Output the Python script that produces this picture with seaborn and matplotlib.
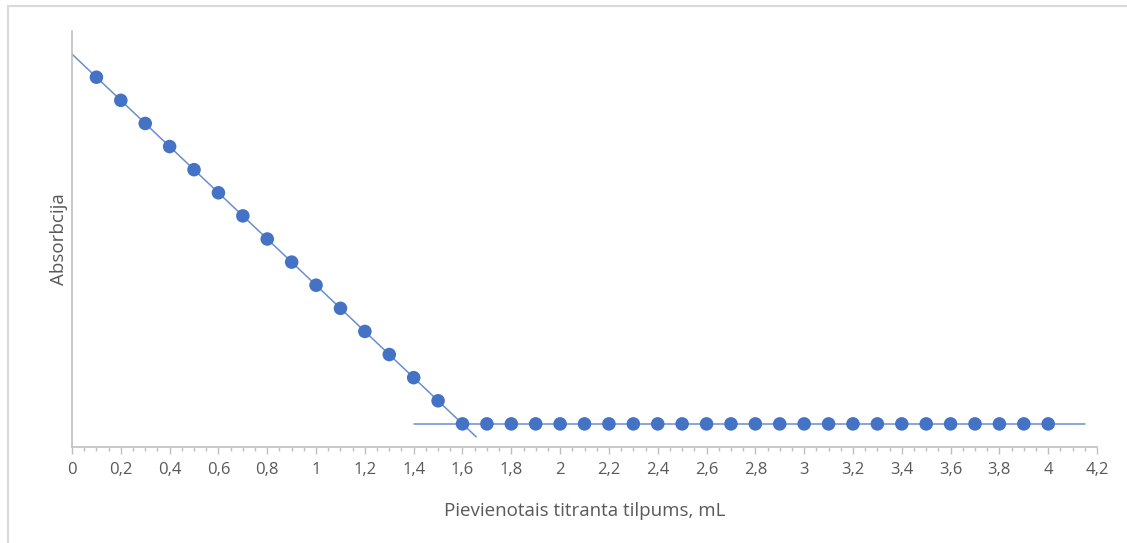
import numpy as np
import pandas as pd
import matplotlib.pyplot as plt
import seaborn as sns
from matplotlib.lines import Line2D
from matplotlib.ticker import MultipleLocator

# ── Data ──────────────────────────────────────────────────────────────────────
volume = [0.1, 0.2, 0.3, 0.4, 0.5, 0.6, 0.7, 0.8, 0.9, 1.0,
          1.1, 1.2, 1.3, 1.4, 1.5, 1.6, 1.7, 1.8, 1.9, 2.0,
          2.1, 2.2, 2.3, 2.4, 2.5, 2.6, 2.7, 2.8, 2.9, 3.0,
          3.1, 3.2, 3.3, 3.4, 3.5, 3.6, 3.7, 3.8, 3.9, 4.0]
absorb = [0.80, 0.75, 0.70, 0.65, 0.60, 0.55, 0.50, 0.45, 0.40, 0.35,
          0.30, 0.25, 0.20, 0.15, 0.10, 0.05, 0.05, 0.05, 0.05, 0.05,
          0.05, 0.05, 0.05, 0.05, 0.05, 0.05, 0.05, 0.05, 0.05, 0.05,
          0.05, 0.05, 0.05, 0.05, 0.05, 0.05, 0.05, 0.05, 0.05, 0.05]
n_falling = 15                      # points used for the descending trendline
falling_span = [0.0, 1.656]         # trendline extents (x)
flat_span = [1.4, 4.15]

tick_values = [0, 0.2, 0.4, 0.6, 0.8, 1, 1.2, 1.4, 1.6, 1.8, 2, 2.2,
               2.4, 2.6, 2.8, 3, 3.2, 3.4, 3.6, 3.8, 4, 4.2]
tick_labels = ["0", "0,2", "0,4", "0,6", "0,8", "1", "1,2", "1,4", "1,6", "1,8",
               "2", "2,2", "2,4", "2,6", "2,8", "3", "3,2", "3,4", "3,6", "3,8",
               "4", "4,2"]

df = pd.DataFrame({"v": volume, "a": absorb})

# trendlines (linear fits on each segment)
k1, b1 = np.polyfit(df["v"][:n_falling], df["a"][:n_falling], 1)
k2, b2 = np.polyfit(df["v"][n_falling:], df["a"][n_falling:], 1)
trend1 = pd.DataFrame({"v": falling_span})
trend1["a"] = k1 * trend1["v"] + b1
trend2 = pd.DataFrame({"v": flat_span})
trend2["a"] = k2 * trend2["v"] + b2

# ── Plot ──────────────────────────────────────────────────────────────────────
sns.set_theme(style="white")
plt.rcParams['font.family'] = ['Open Sans', 'DejaVu Sans']

blue = "#4472C4"
grey_txt = "#595959"
grey_axis = "#BFBFBF"

fig = plt.figure(figsize=(11.27, 5.43), dpi=100)
ax = fig.add_axes([0.0639, 0.1768, 0.9095, 0.7661])

sns.lineplot(data=trend1, x="v", y="a", ax=ax, color=blue, lw=1.1, alpha=0.8)
sns.lineplot(data=trend2, x="v", y="a", ax=ax, color=blue, lw=1.1, alpha=0.8)
sns.scatterplot(data=df, x="v", y="a", ax=ax, color=blue, s=95,
                edgecolor="none", zorder=3)

ax.set_xlim(0, 4.2)
ax.set_ylim(0, 0.9)
ax.set_xticks(tick_values)
ax.set_xticklabels(tick_labels, color=grey_txt, fontsize=12)
ax.xaxis.set_minor_locator(MultipleLocator(0.05))
ax.tick_params(axis="x", which="major", bottom=True, length=5, width=1,
               color=grey_axis, pad=6)
ax.tick_params(axis="x", which="minor", bottom=True, length=3, width=1,
               color=grey_axis)
ax.set_yticks([])

for side in ["top", "right"]:
    ax.spines[side].set_visible(False)
for side in ["left", "bottom"]:
    ax.spines[side].set_color(grey_axis)
    ax.spines[side].set_linewidth(1.2)

ax.set_xlabel("Pievienotais titranta tilpums, mL", color=grey_txt,
              fontsize=13.5, labelpad=17)
ax.set_ylabel("Absorbcija", color=grey_txt, fontsize=13.5, labelpad=3)

# chart frame (top and left edges visible in the screenshot)
fig.add_artist(Line2D([8 / 1127, 1], [1 - 6 / 543, 1 - 6 / 543],
                      transform=fig.transFigure, color="#D9D9D9", lw=1.5))
fig.add_artist(Line2D([8 / 1127, 8 / 1127], [0, 1 - 6 / 543],
                      transform=fig.transFigure, color="#D9D9D9", lw=1.5))

fig.savefig("out.png", dpi=100)
